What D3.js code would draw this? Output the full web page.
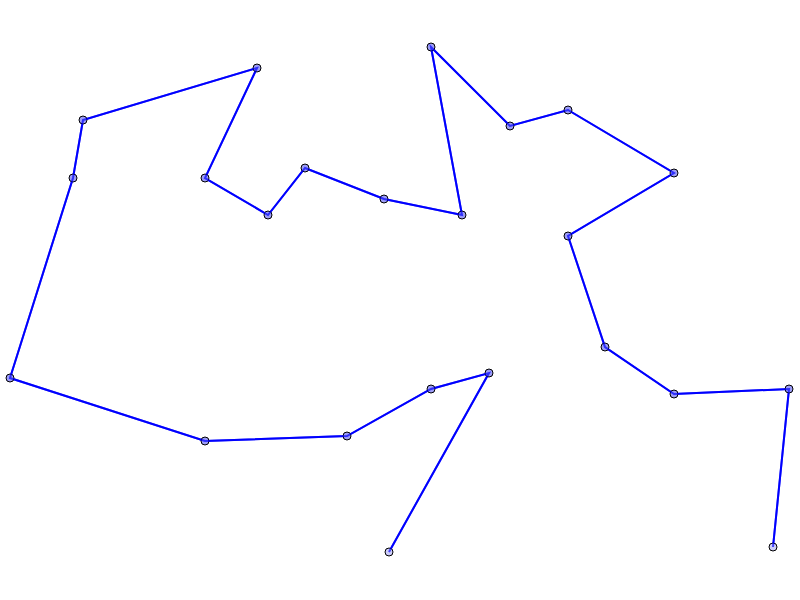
<!DOCTYPE html>
<html>
<head>
<meta charset="utf-8">
<script src="https://cdn.jsdelivr.net/npm/d3@7"></script>
<style>
    body { margin: 0; background: #fff; }
    svg { display: block; }
</style>
</head>
<body>
<div id="chart"></div>
<script>
'use strict';

// Path points, in visiting order
const xs = [389, 489, 431, 347, 205, 10, 73, 83, 257, 205, 268, 305, 384, 462, 431, 510, 568, 674, 568, 605, 674, 789, 773];
const ys = [552, 373, 389, 436, 441, 378, 178, 120, 68, 178, 215, 168, 199, 215, 47, 126, 110, 173, 236, 347, 394, 389, 547];

// Configs
const svgW = 800;
const svgH = 600;

// Tools
const xScale = d3.scaleLinear().domain([0, 800]).range([0, svgW]);
const yScale = d3.scaleLinear().domain([0, 600]).range([0, svgH]);
const lineMaker = d3.line()
    .x(d => xScale(d.x))
    .y(d => yScale(d.y));

const points = xs.map((x, i) => ({x: x, y: ys[i]}));

const svg = d3.select('#chart')
    .append('svg')
    .attr('width', svgW)
    .attr('height', svgH);

// Route
svg.append('path')
    .datum(points)
    .attr('d', lineMaker)
    .attr('fill', 'none')
    .attr('stroke', '#0000ff')
    .attr('stroke-width', 2);

// Stops
const last = points.length - 1;
svg.selectAll('.stop')
    .data(points)
    .join('circle')
    .attr('class', 'stop')
    .attr('cx', d => xScale(d.x))
    .attr('cy', d => yScale(d.y))
    .attr('r', 4)
    .attr('fill', (d, i) => (i === 0 || i === last) ? '#c4c4f8' : '#8c8cf4')
    .attr('fill-opacity', 0.85)
    .attr('stroke', '#000')
    .attr('stroke-width', 1);

// Route on top so it shows through the stops
svg.append('path')
    .datum(points)
    .attr('d', lineMaker)
    .attr('fill', 'none')
    .attr('stroke', '#0000ff')
    .attr('stroke-width', 2)
    .attr('stroke-opacity', 0.6);
</script>
</body>
</html>
